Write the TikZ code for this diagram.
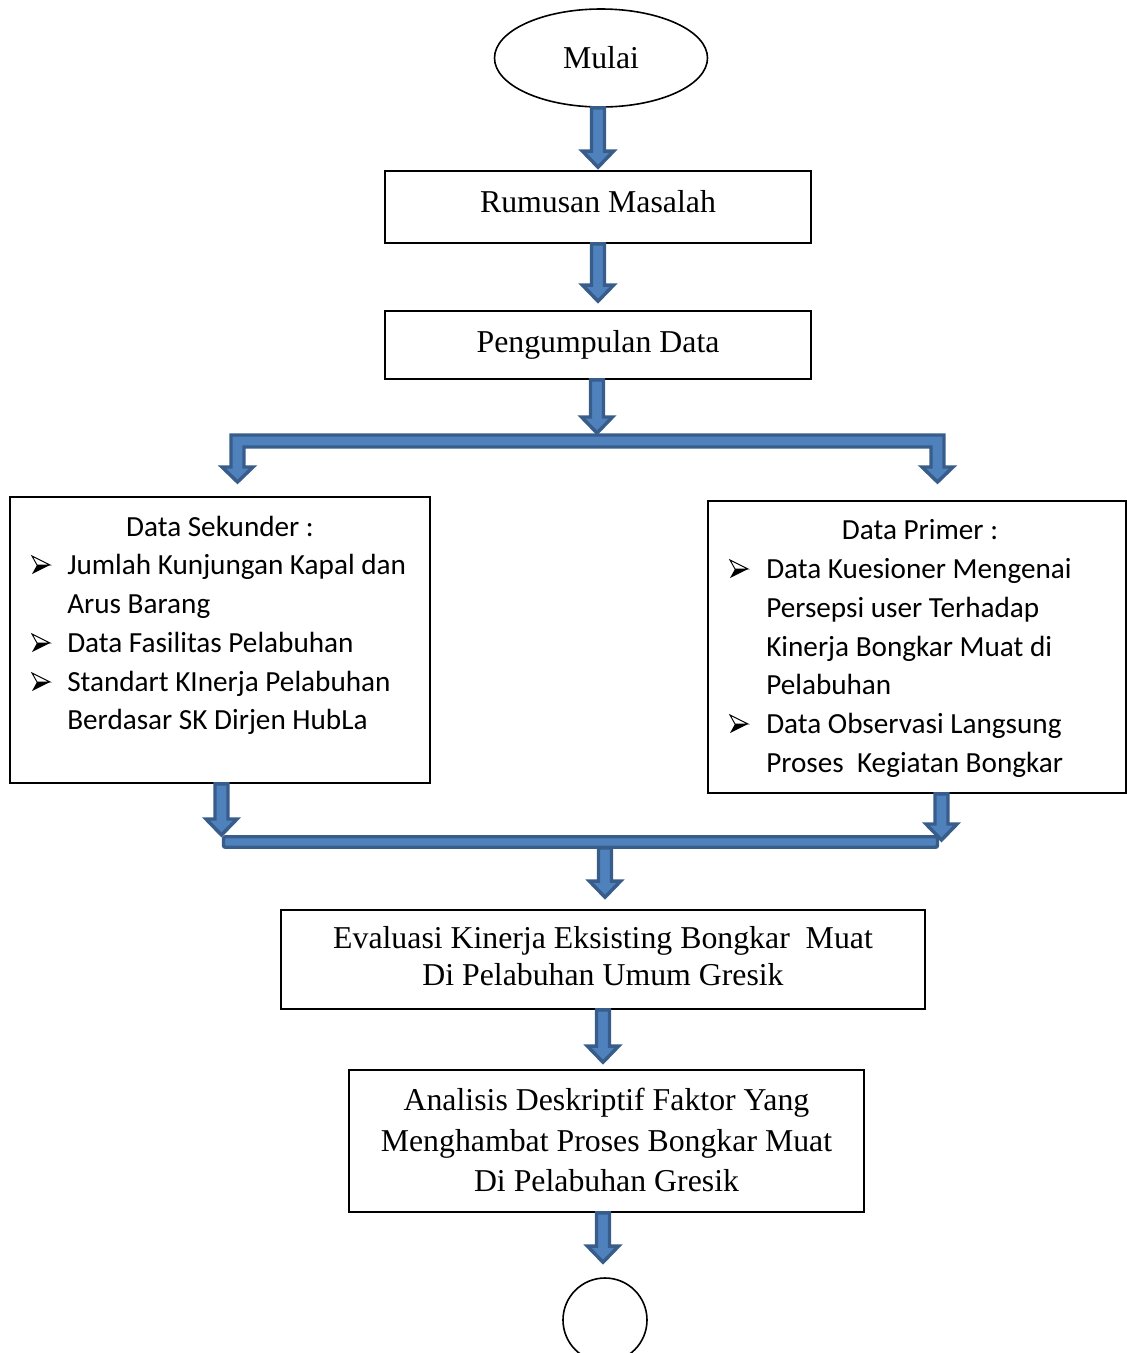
\documentclass[tikz,border=0pt]{standalone}
\usepackage{fontspec}
\setmainfont{Liberation Serif}
\newfontfamily\calibrifont{Carlito}
\usetikzlibrary{shapes.geometric,calc}
\definecolor{arrfill}{HTML}{4F81BD}
\definecolor{arrline}{HTML}{385D8A}
\tikzset{
  box/.style={draw=black, line width=1.2pt, rectangle, inner sep=0pt},
  serif/.style={font=\fontsize{23.85}{28}\selectfont, inner sep=0pt, anchor=base},
  sans/.style={font=\calibrifont\fontsize{21.9}{28}\selectfont, inner sep=0pt, anchor=base west},
  sanstitle/.style={sans, anchor=base},
  blockarrow/.style={fill=arrfill, draw=arrline, line width=2.6pt},
  bul/.pic={
    \draw[line width=0.7pt, line join=miter] (0,-9) -- (18,0) -- (5,0) -- cycle;
    \fill[black] (5,0) -- (18,0) -- (0,9) -- cycle;
  }
}
% vertical block arrow from #1 down to the tip #2 (x taken from #1)
\newcommand\blockdown[2]{%
  \path[blockarrow] let \p1=(#1), \p2=(#2) in
    (\x1-4.875pt,\y1) -- (\x1-4.875pt,\y2+12pt) -- (\x1-11.625pt,\y2+12pt)
    -- (\x1,\y2) -- (\x1+11.625pt,\y2+12pt) -- (\x1+4.875pt,\y2+12pt)
    -- (\x1+4.875pt,\y1) -- cycle;}

\begin{document}
\begin{tikzpicture}[x=0.75pt,y=-0.75pt]
\useasboundingbox (0,0) rectangle (1127,1353);

% ---- nodes ----
\node[draw=black, line width=1.2pt, ellipse, minimum width=159.75pt, minimum height=73.5pt, inner sep=0pt] (mulai) at (601,58) {};
\node[serif] (tmulai) at (601,68) {Mulai};

\node[box, minimum width=319.5pt, minimum height=54pt] (rumusan) at (598,207) {};
\node[serif] (trumusan) at (598,212.5) {Rumusan Masalah};

\node[box, minimum width=319.5pt, minimum height=51pt] (pengumpulan) at (598,345) {};
\node[serif] (tpeng) at (598,352) {Pengumpulan Data};

\node[box, minimum width=315pt, minimum height=214.5pt] (sekunder) at (220,640) {};
\node[sanstitle] (ts0) at (220,536) {Data Sekunder :};
\pic at (32,565) {bul};
\node[sans] (ts1) at (67,574) {Jumlah Kunjungan Kapal dan};
\node[sans] (ts2) at (67,613) {Arus Barang};
\pic at (32,643) {bul};
\node[sans] (ts3) at (67,652) {Data Fasilitas Pelabuhan};
\pic at (32,682) {bul};
\node[sans] (ts4) at (67,691) {Standart KInerja Pelabuhan};
\node[sans] (ts5) at (67,729) {Berdasar SK Dirjen HubLa};

\node[box, minimum width=313.5pt, minimum height=219pt] (primer) at (917,647) {};
\node[sanstitle] (tp0) at (920,539) {Data Primer :};
\pic at (730,569) {bul};
\node[sans] (tp1) at (766,578) {Data Kuesioner Mengenai};
\node[sans] (tp2) at (766,617) {Persepsi user Terhadap};
\node[sans] (tp3) at (766,656) {Kinerja Bongkar Muat di};
\node[sans] (tp4) at (766,694) {Pelabuhan};
\pic at (730,724) {bul};
\node[sans] (tp5) at (766,733) {Data Observasi Langsung};
\node[sans] (tp6) at (766,772) {Proses\ \ Kegiatan Bongkar};

\node[box, minimum width=483pt, minimum height=74.25pt] (evaluasi) at (603,959.5) {};
\node[serif] (te1) at (603,948) {Evaluasi Kinerja Eksisting Bongkar\ \ Muat};
\node[serif] (te2) at (603,985) {Di Pelabuhan Umum Gresik};

\node[box, minimum width=386.25pt, minimum height=106.5pt] (analisis) at (606.5,1141) {};
\node[serif] (ta1) at (606.5,1110) {Analisis Deskriptif Faktor Yang};
\node[serif] (ta2) at (606.5,1151) {Menghambat Proses Bongkar Muat};
\node[serif] (ta3) at (606.5,1191) {Di Pelabuhan Gresik};

\node[draw=black, line width=1.2pt, circle, minimum size=63pt, inner sep=0pt] (akhir) at (605,1320) {};

% ---- coordinates for split / merge ----
\coordinate (splitTop) at (597,433);
\coordinate (mL) at (221.5,835);
\coordinate (mR) at (941.5,840);
\coordinate (mC) at (605,848);

% ---- connectors ----
\blockdown{mulai.south -| rumusan.north}{$(rumusan.north)+(0,-3)$}
\blockdown{rumusan.south}{$(pengumpulan.north)+(0,-9)$}

% split bar with two down arrows
\path[blockarrow] (231,435) -- (944,435) -- (944,467) -- (953,467) -- (937.5,482)
  -- (922,467) -- (931,467) -- (931,447) -- (244,447) -- (244,467) -- (253,467)
  -- (237.5,482) -- (222,467) -- (231,467) -- cycle;
\blockdown{pengumpulan.south -| splitTop}{splitTop}

% merge bar
\path[blockarrow, rounded corners=1.5pt] (223.5,836.75) rectangle (937.5,847.25);
\blockdown{sekunder.south -| mL}{mL}
\blockdown{primer.south -| mR}{mR}
\blockdown{mC}{$(evaluasi.north)+(0,-12)$}

\blockdown{evaluasi.south}{$(analisis.north)+(0,-7)$}
\blockdown{analisis.south -| evaluasi.south}{$(akhir.north)+(0,-15)$}
\end{tikzpicture}
\end{document}
